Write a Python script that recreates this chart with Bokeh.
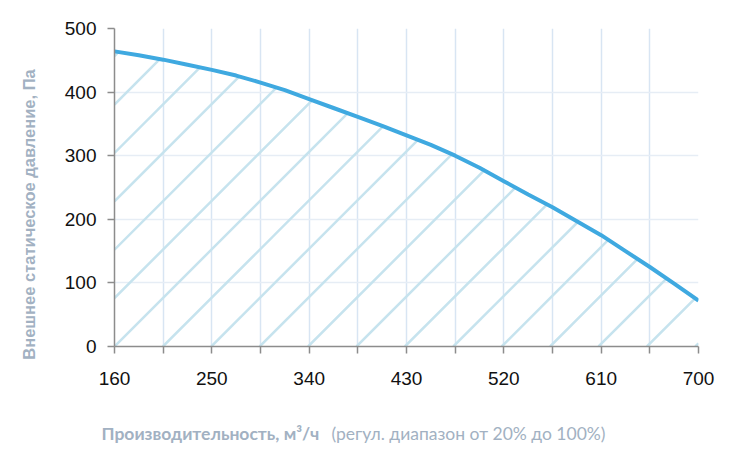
import numpy as np
from bokeh.plotting import figure
from bokeh.models import Range1d, FixedTicker, Label
from bokeh.layouts import row, column
from bokeh.embed import file_html
from bokeh.resources import INLINE

# data
flow = [160, 182.5, 205, 227.5, 250, 272.5, 295, 317.5, 340, 362.5, 385, 407.5,
        430, 452.5, 475, 497.5, 520, 542.5, 565, 587.5, 610, 632.5, 655, 677.5, 700]
pressure = [464, 458, 451, 443, 435, 426, 415, 403, 389, 375, 361, 347,
            332, 317, 300, 281, 260, 239, 219, 197, 175, 150, 125, 99, 72]

x_major = [160, 250, 340, 430, 520, 610, 700]
x_minor = [205, 295, 385, 475, 565, 655]
y_major = [0, 100, 200, 300, 400, 500]

y_title = "Внешнее статическое давление, Па"
x_title_bold = "Производительность, м³/ч"
x_title_rest = "(регул. диапазон от 20% до 100%)"

TITLE_COLOR = "#a2b1c2"
LEFT_W = 46
MAIN_W, MAIN_H = 678, 400
BOTTOM_H = 59
BL, BR, BT, BB = 68, 26, 28, 54
X0, X1, Y0, Y1 = 160, 700, 0, 500

# ---- main chart ----
p = figure(width=MAIN_W, height=MAIN_H, output_backend="svg", toolbar_location=None,
           x_range=Range1d(X0, X1), y_range=Range1d(Y0, Y1),
           min_border_left=BL, min_border_top=BT, min_border_right=BR,
           min_border_bottom=BB)
p.outline_line_color = None

# diagonal hatch (45 degrees on screen) below the curve
frame_w = MAIN_W - BL - BR
frame_h = MAIN_H - BT - BB
kx = frame_w / (X1 - X0)
ky = frame_h / (Y1 - Y0)
slope = kx / ky
spacing_px = 48.4
xd = np.linspace(X0, X1, 4321)
cd = np.interp(xd, flow, pressure)
hx0, hy0, hx1, hy1 = [], [], [], []
for k in range(-8, 14):
    x0 = X0 + k * spacing_px / kx
    xs = max(X0, x0)
    ys = slope * (xs - x0)
    if xs >= X1 or ys >= np.interp(xs, flow, pressure):
        continue
    ly = slope * (xd - x0)
    m = (xd >= xs) & (ly >= cd)
    xe = xd[m][0] if m.any() else X1
    hx0.append(xs); hy0.append(ys)
    hx1.append(xe); hy1.append(slope * (xe - x0))
p.segment(hx0, hy0, hx1, hy1, line_color="#c6e3ee", line_width=2.5)

p.line(flow, pressure, line_color="#3fa9e0", line_width=4)

xax = p.xaxis[0]
xax.ticker = FixedTicker(ticks=x_major, minor_ticks=x_minor)
yax = p.yaxis[0]
yax.ticker = FixedTicker(ticks=y_major)
for ax in (xax, yax):
    ax.axis_line_color = "#8c8c8c"
    ax.axis_line_width = 1.5
    ax.major_tick_line_color = "#8c8c8c"
    ax.minor_tick_line_color = "#8c8c8c"
    ax.major_tick_line_width = 1.5
    ax.minor_tick_line_width = 1.5
    ax.major_tick_out = 7
    ax.major_tick_in = 0
    ax.major_label_text_font = "Liberation Sans"
    ax.major_label_text_font_size = "19px"
    ax.major_label_text_color = "#111111"
xax.minor_tick_out = 7
xax.minor_tick_in = 0
yax.minor_tick_out = 0
yax.minor_tick_in = 0
xax.major_label_standoff = 18
yax.major_label_standoff = 11

p.xgrid.grid_line_color = "#d8e5f3"
p.xgrid.grid_line_width = 1.5
p.xgrid.minor_grid_line_color = "#d8e5f3"
p.xgrid.minor_grid_line_width = 1.5
p.ygrid.grid_line_color = "#e6edf5"
p.ygrid.grid_line_width = 1.5

# ---- left strip with the y title ----
TOTAL_H = MAIN_H + BOTTOM_H
pl = figure(width=LEFT_W, height=TOTAL_H, output_backend="svg", toolbar_location=None,
            x_range=Range1d(0, LEFT_W), y_range=Range1d(0, TOTAL_H), min_border=0,
            x_axis_location=None, y_axis_location=None)
pl.outline_line_color = None
pl.grid.visible = False
pl.add_layout(Label(x=28, y=TOTAL_H - 214, text=y_title, angle=90, angle_units="deg",
                    text_font="Liberation Sans", text_font_style="bold",
                    text_font_size="16.5px", text_color=TITLE_COLOR,
                    text_align="center", text_baseline="middle"))

# ---- bottom strip with the x title (page coordinates) ----
pb = figure(width=MAIN_W, height=BOTTOM_H, output_backend="svg", toolbar_location=None,
            x_range=Range1d(LEFT_W, LEFT_W + MAIN_W), y_range=Range1d(0, BOTTOM_H),
            min_border=0, x_axis_location=None, y_axis_location=None)
pb.outline_line_color = None
pb.grid.visible = False
pb.add_layout(Label(x=101, y=26, text=x_title_bold, text_font="Lato",
                    text_font_style="bold", text_font_size="17.5px",
                    text_color=TITLE_COLOR, text_baseline="alphabetic"))
pb.add_layout(Label(x=331, y=26, text=x_title_rest, text_font="Lato",
                    text_font_size="17.5px", text_color=TITLE_COLOR,
                    text_baseline="alphabetic"))

layout = row(pl, column(p, row(pb)))
open("out.html", "w").write(file_html(layout, INLINE))
